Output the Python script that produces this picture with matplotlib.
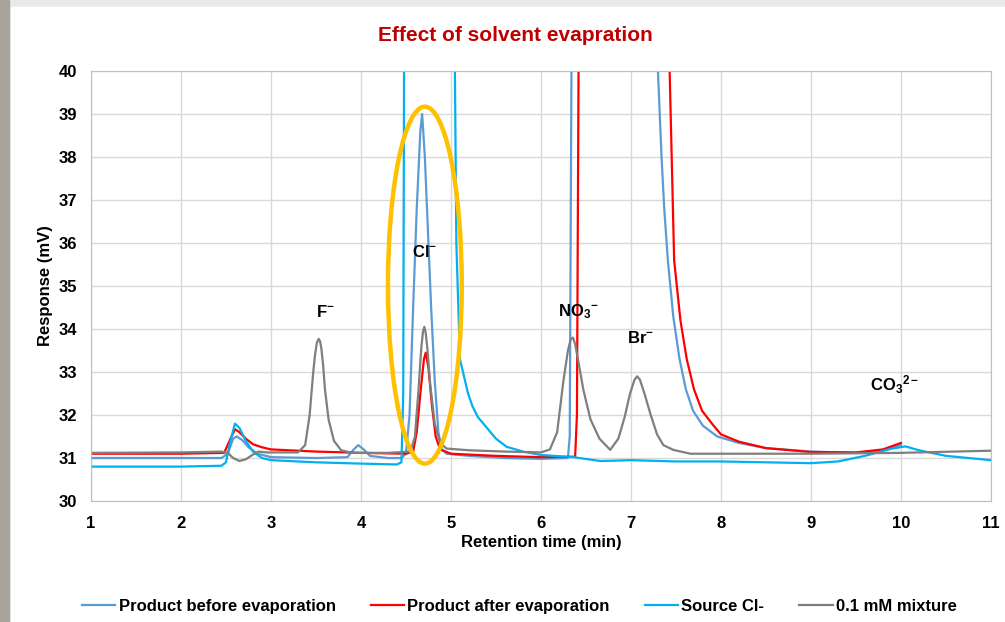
import matplotlib
matplotlib.use("Agg")
import matplotlib.pyplot as plt
from matplotlib.patches import Ellipse, Rectangle

plt.rcParams['font.family'] = ['Liberation Sans', 'DejaVu Sans']
plt.rcParams['mathtext.fontset'] = 'custom'
plt.rcParams['mathtext.rm'] = 'Liberation Sans:bold'
plt.rcParams['mathtext.bf'] = 'Liberation Sans:bold'
plt.rcParams['mathtext.default'] = 'bf'

# traces (time in min, response in mV)
before_t = [1.0, 2.0, 2.45, 2.52, 2.58, 2.62, 2.68, 2.75, 2.85, 3.0, 3.5, 3.85, 3.92, 3.97,
            4.03, 4.1, 4.3, 4.45, 4.5, 4.54, 4.58, 4.62, 4.66, 4.68, 4.71, 4.74, 4.78, 4.82,
            4.86, 4.9, 4.95, 5.2, 5.6, 6.0, 6.3, 6.32, 6.34, 6.36, 7.25, 7.30, 7.34, 7.37,
            7.41, 7.47, 7.54, 7.61, 7.69, 7.8, 7.96, 8.2, 8.5, 9.0, 9.5, 9.8, 10.0]
before_v = [31.0, 31.0, 31.0, 31.1, 31.45, 31.5, 31.42, 31.25, 31.1, 31.02, 31.0, 31.02, 31.2, 31.3,
            31.2, 31.05, 31.0, 31.0, 31.1, 32.0, 34.5, 36.8, 38.6, 39.0, 38.0, 36.5, 34.5, 32.8,
            31.6, 31.2, 31.1, 31.05, 31.0, 30.98, 31.0, 31.5, 40.5, 50.0, 50.0, 40.0, 38.0, 36.8,
            35.6, 34.3, 33.3, 32.6, 32.1, 31.75, 31.5, 31.35, 31.23, 31.15, 31.12, 31.18, 31.3]

after_t = [1.0, 2.0, 2.48, 2.54, 2.6, 2.65, 2.72, 2.8, 2.9, 3.0, 3.5, 4.0, 4.5, 4.58, 4.62,
           4.66, 4.7, 4.72, 4.75, 4.79, 4.83, 4.88, 5.0, 5.5, 6.0, 6.38, 6.40, 6.42, 6.45,
           7.38, 7.43, 7.48, 7.55, 7.62, 7.7, 7.79, 7.9, 8.0, 8.2, 8.5, 9.0, 9.5, 9.8, 10.0]
after_v = [31.1, 31.1, 31.12, 31.4, 31.67, 31.6, 31.45, 31.32, 31.25, 31.2, 31.15, 31.12, 31.1, 31.15, 31.6,
           32.5, 33.3, 33.45, 33.1, 32.2, 31.5, 31.2, 31.1, 31.05, 31.02, 31.03, 32.0, 41.0, 50.0,
           50.0, 40.0, 35.6, 34.2, 33.3, 32.6, 32.1, 31.8, 31.55, 31.38, 31.23, 31.14, 31.13, 31.2, 31.35]

source_t = [1.0, 2.0, 2.45, 2.5, 2.55, 2.6, 2.65, 2.72, 2.8, 2.9, 3.0, 3.5, 4.0, 4.4, 4.45,
            4.47, 4.48, 4.5, 5.02, 5.04, 5.06, 5.1, 5.19, 5.24, 5.3, 5.4, 5.5, 5.62, 5.8, 6.0,
            6.36, 6.66, 7.0, 7.5, 8.0, 8.5, 9.0, 9.3, 9.6, 9.9, 10.05, 10.2, 10.5, 11.0]
source_v = [30.8, 30.8, 30.82, 30.9, 31.4, 31.8, 31.7, 31.4, 31.15, 31.0, 30.95, 30.9, 30.87, 30.85, 30.9,
            32.5, 41.0, 50.0, 50.0, 41.0, 36.0, 33.3, 32.5, 32.2, 31.95, 31.7, 31.45, 31.26, 31.15, 31.07,
            31.02, 30.93, 30.95, 30.92, 30.92, 30.9, 30.88, 30.92, 31.05, 31.22, 31.27, 31.18, 31.05, 30.95]

mix_t = [1.0, 2.0, 2.45, 2.52, 2.58, 2.65, 2.72, 2.8, 2.86, 2.95, 3.3, 3.38, 3.43, 3.47, 3.49,
         3.51, 3.53, 3.545, 3.56, 3.58, 3.6, 3.64, 3.7, 3.78, 3.9, 4.3, 4.55, 4.6, 4.64, 4.67,
         4.69, 4.705, 4.72, 4.74, 4.77, 4.82, 4.88, 4.95, 5.2, 5.6, 6.0, 6.1, 6.18, 6.25, 6.3,
         6.33, 6.355, 6.38, 6.42, 6.47, 6.55, 6.65, 6.77, 6.86, 6.93, 6.99, 7.04, 7.07, 7.1,
         7.15, 7.22, 7.29, 7.36, 7.47, 7.66, 8.0, 9.0, 10.0, 11.0]
mix_v = [31.12, 31.13, 31.15, 31.12, 31.0, 30.93, 30.97, 31.08, 31.15, 31.13, 31.13, 31.3, 32.0, 33.0, 33.4,
         33.68, 33.77, 33.72, 33.55, 33.15, 32.6, 31.9, 31.4, 31.18, 31.12, 31.12, 31.15, 31.5, 32.6, 33.55,
         33.95, 34.05, 33.9, 33.5, 32.7, 31.8, 31.35, 31.22, 31.18, 31.15, 31.13, 31.2, 31.6, 32.8, 33.5,
         33.76, 33.8, 33.65, 33.2, 32.6, 31.9, 31.45, 31.19, 31.45, 31.95, 32.5, 32.82, 32.9, 32.82,
         32.5, 32.0, 31.55, 31.3, 31.19, 31.1, 31.1, 31.1, 31.12, 31.17]

series_names = ['Product before evaporation', 'Product after evaporation', 'Source Cl-', '0.1 mM mixture']
series_colors = ['#5B9BD5', '#FF0000', '#00B0F0', '#7F7F7F']

ion_labels = [r'F$^{-}$', r'Cl$^{-}$', r'NO$_3{}^{-}$', r'Br$^{-}$', r'CO$_3{}^{2-}$']
ion_t = [3.6, 4.71, 6.41, 7.11, 9.93]
ion_v = [34.4, 35.8, 34.4, 33.8, 32.7]

fig = plt.figure(figsize=(10.05, 6.22), dpi=100)
fig.patches.append(Rectangle((0, 0), 1, 1, transform=fig.transFigure, color='#E9E9E9', zorder=-3))
fig.patches.append(Rectangle((0, 0), 0.009, 1, transform=fig.transFigure, color='#A9A49B', zorder=-2))
fig.patches.append(Rectangle((0.011, 0), 0.989, 0.988, transform=fig.transFigure, color='white', zorder=-1))

ax = fig.add_axes([0.0905, 0.1945, 0.8955, 0.6914])
ax.set_facecolor('none')

for t, v, name, c in zip([before_t, after_t, source_t, mix_t],
                         [before_v, after_v, source_v, mix_v],
                         series_names, series_colors):
    ax.plot(t, v, color=c, lw=1.6, label=name)

ax.add_patch(Ellipse((4.71, 35.02), 0.82, 8.3, fill=False, edgecolor='#FFC000', lw=3.2, zorder=5))

for lab, t, v in zip(ion_labels, ion_t, ion_v):
    ax.text(t, v, lab, ha='center', va='center', fontsize=12, fontweight='bold', color='black', zorder=6)

ax.set_xlim(1, 11)
ax.set_ylim(30, 40)
ax.set_xticks(range(1, 12))
ax.set_yticks(range(30, 41))
ax.grid(True, color='#D9D9D9', lw=1)
ax.set_axisbelow(True)
for s in ax.spines.values():
    s.set_color('#BFBFBF')
ax.tick_params(axis='y', length=0, labelsize=12, pad=10)
ax.tick_params(axis='x', length=0, labelsize=12, pad=11)
for lbl in ax.get_xticklabels() + ax.get_yticklabels():
    lbl.set_fontweight('bold')

ax.set_xlabel('Retention time (min)', fontsize=12, fontweight='bold', labelpad=3)
ax.set_ylabel('Response (mV)', fontsize=12, fontweight='bold', labelpad=4)
fig.text(0.513, 0.943, 'Effect of solvent evapration', ha='center', va='center',
         fontsize=15, fontweight='bold', color='#C00000')

ax.legend(loc='center', bbox_to_anchor=(0.476, -0.245), ncol=4, frameon=False,
          handlelength=2.0, handletextpad=0.2, columnspacing=2.1,
          prop={'weight': 'bold', 'size': 12})

fig.savefig('out.png', dpi=100)
